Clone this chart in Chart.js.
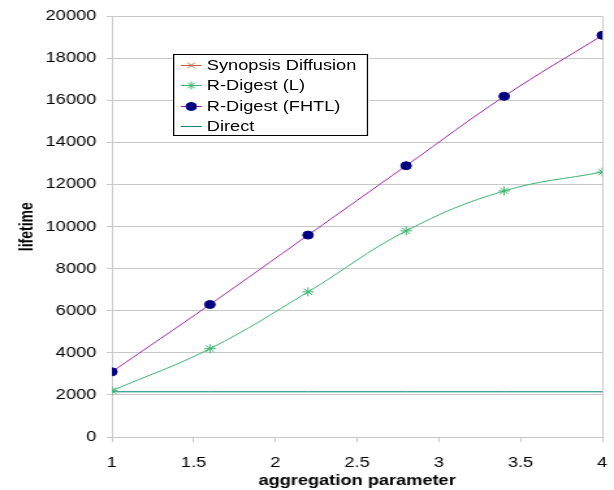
<!DOCTYPE html>
<html>
<head>
<meta charset="utf-8">
<script src="https://cdn.jsdelivr.net/npm/chart.js@4/dist/chart.umd.min.js"></script>
<style>
  body { margin: 0; background: #fff; overflow: hidden; }
  /* the reference is stretched sideways, so draw narrow and widen */
  #wrap { position: relative; width: 472px; height: 490px; transform: scaleX(1.3008); transform-origin: 0 0; }
  #c { display: block; }
  #legend {
    position: absolute; left: 133px; top: 54px; width: 148px; height: 80px;
    border: 1px solid #000; background: #fff;
    font: 14px "Liberation Sans", Arial, sans-serif; color: #000;
  }
  .row { height: 20.3px; display: flex; align-items: center; }
  .row canvas { margin-left: 5px; margin-right: 4px; }
</style>
</head>
<body>
<div id="wrap">
  <canvas id="c" width="472" height="490"></canvas>
  <div id="legend"></div>
</div>
<script>
const aggregation = [1, 1.6, 2.2, 2.8, 3.4, 4];
const synopsisDiffusion = [null, null, null, null, null, null];
const rDigestL = [2200, 4200, 6900, 9800, 11700, 12600];
const rDigestFHTL = [3100, 6300, 9600, 12900, 16200, 19100];
const direct = [2150, 2150, 2150, 2150, 2150, 2150];

function pts(vals) {
    return aggregation.map((x, i) => ({ x: x, y: vals[i] }));
}

const series = [
    { label: 'Synopsis Diffusion', data: pts(synopsisDiffusion), borderColor: '#c0603c', pointStyle: 'crossRot', pointRadius: 4, pointBorderColor: '#c0603c', pointBackgroundColor: '#c0603c' },
    { label: 'R-Digest (L)', data: pts(rDigestL), borderColor: '#3cb371', pointStyle: 'star', pointRadius: 4.5, pointBorderColor: '#3cb371', pointBackgroundColor: '#3cb371' },
    { label: 'R-Digest (FHTL)', data: pts(rDigestFHTL), borderColor: '#a020a8', pointStyle: 'circle', pointRadius: 4, pointBorderColor: '#000080', pointBackgroundColor: '#000080' },
    { label: 'Direct', data: pts(direct), borderColor: '#008080', pointRadius: 0, tension: 0 }
];

const plotBorder = {
    id: 'plotBorder',
    afterDraw(chart) {
        const a = chart.chartArea, g = chart.ctx;
        g.save();
        g.strokeStyle = '#c8c8c8';
        g.lineWidth = 1;
        g.beginPath();
        g.moveTo(Math.round(a.left) + 0.5, Math.round(a.top) + 0.5);
        g.lineTo(Math.round(a.right) + 0.5, Math.round(a.top) + 0.5);
        g.lineTo(Math.round(a.right) + 0.5, Math.round(a.bottom) + 0.5);
        g.stroke();
        g.restore();
    }
};

new Chart(document.getElementById('c'), {
    type: 'scatter',
    data: {
        datasets: series.map(s => Object.assign({
            showLine: true,
            borderWidth: 1,
            pointBorderWidth: 1,
            tension: 0.4,
            fill: false
        }, s))
    },
    options: {
        responsive: false,
        animation: false,
        layout: { padding: { left: 0, right: 9, top: 14, bottom: 0 } },
        plugins: { legend: { display: false }, tooltip: { enabled: false } },
        scales: {
            x: {
                type: 'linear', min: 1, max: 4,
                ticks: { stepSize: 0.5, color: '#000', font: { family: 'Liberation Sans', size: 14 }, padding: 13, callback: v => String(v) },
                grid: { drawOnChartArea: false, color: '#c8c8c8', tickLength: 5 },
                border: { color: '#c8c8c8' },
                title: { display: true, text: 'aggregation parameter', color: '#000', font: { family: 'Liberation Sans', size: 14, weight: 'bold' }, padding: 0 },
                afterFit(s) { s.height = 53; s.paddingRight = 0; }
            },
            y: {
                min: 0, max: 20000,
                ticks: { stepSize: 2000, color: '#000', font: { family: 'Liberation Sans', size: 14 }, padding: 8, callback: v => String(v) },
                grid: { color: '#c8c8c8', tickLength: 4 },
                border: { color: '#c8c8c8' },
                title: { display: true, text: 'lifetime', color: '#000', font: { family: 'Liberation Sans', size: 14, weight: 'bold' }, padding: { top: 13, bottom: 0 } },
                afterFit(s) { s.width = 86; }
            }
        }
    },
    plugins: [plotBorder]
});

// legend: line sample with the marker on it
const legend = document.getElementById('legend');
series.forEach(s => {
    const row = document.createElement('div');
    row.className = 'row';
    const sym = document.createElement('canvas');
    sym.width = 16; sym.height = 12;
    const g = sym.getContext('2d');
    g.strokeStyle = s.borderColor; g.lineWidth = 1;
    g.beginPath(); g.moveTo(0, 6.5); g.lineTo(16, 6.5); g.stroke();
    if (s.pointRadius) {
        g.fillStyle = s.pointBackgroundColor;
        g.strokeStyle = s.pointBorderColor;
        Chart.helpers.drawPoint(g, { pointStyle: s.pointStyle, radius: 4, borderWidth: 1 }, 8, 6.5);
    }
    row.appendChild(sym);
    const t = document.createElement('span');
    t.textContent = s.label;
    row.appendChild(t);
    legend.appendChild(row);
});
</script>
</body>
</html>
